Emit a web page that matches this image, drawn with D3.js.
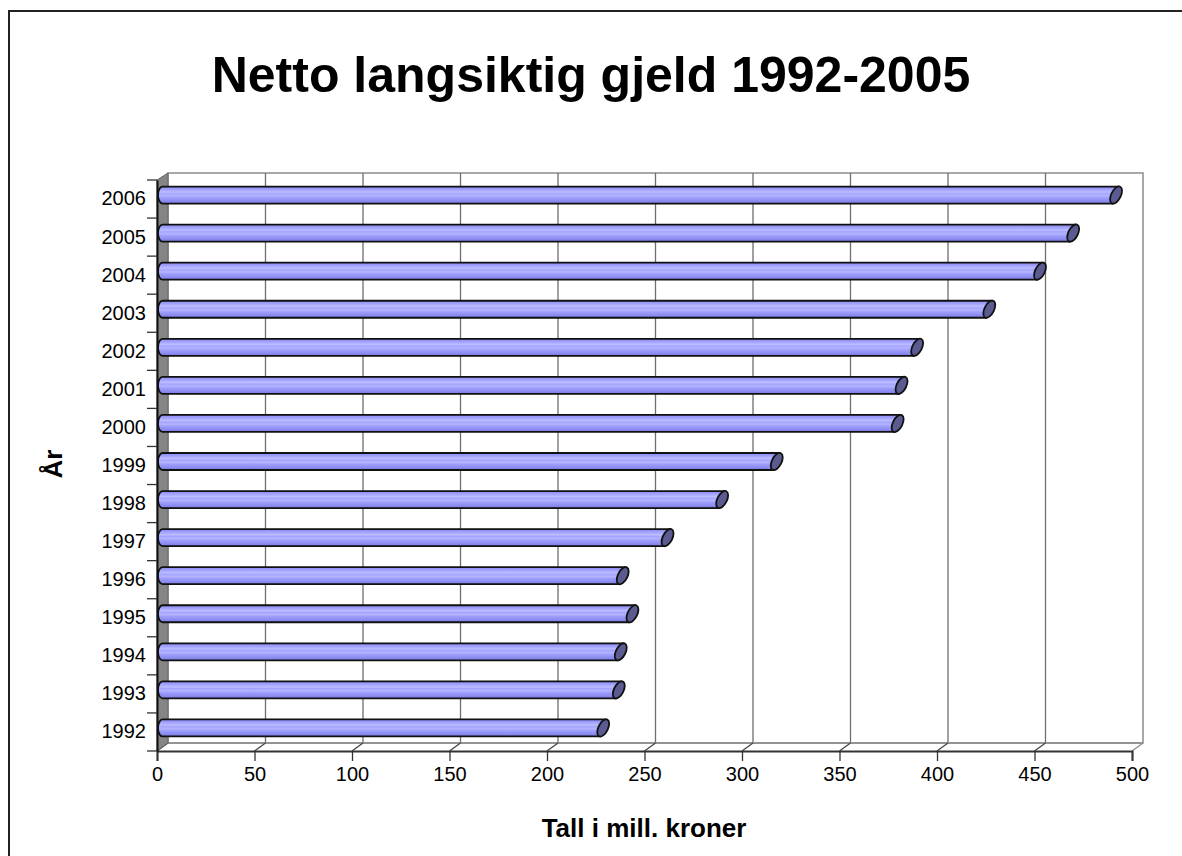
<!DOCTYPE html>
<html>
<head>
<meta charset="utf-8">
<script src="https://cdn.jsdelivr.net/npm/d3@7"></script>
<style>
  html, body { margin: 0; padding: 0; background: #fff; }
  svg { display: block; }
  text { font-family: "Liberation Sans", Arial, sans-serif; }
</style>
</head>
<body>
<svg id="chart" width="1182" height="856"></svg>
<script>
// ---- data ----
const years = ["1992","1993","1994","1995","1996","1997","1998","1999","2000","2001","2002","2003","2004","2005","2006"];
const values = [226, 234, 235, 241, 236, 259, 287, 315, 377, 379, 387, 424, 450, 467, 489];
const xTicks = [0, 50, 100, 150, 200, 250, 300, 350, 400, 450, 500];
const titleText = "Netto langsiktig gjeld 1992-2005";
const xTitle = "Tall i mill. kroner";
const yTitle = "År";

// ---- layout ----
const svg = d3.select("#chart");
const W = 1182, H = 856;
const frontLeft = 157, frontRight = 1132, frontTop = 180, frontBottom = 751;
const depthX = 11, depthY = -8;

const x = d3.scaleLinear().domain([0, 500]).range([frontLeft, frontRight]);
const y = d3.scaleBand().domain(years.slice().reverse()).range([frontTop, frontBottom]).paddingInner(0).paddingOuter(0);

// outer border
svg.append("rect").attr("x", 9).attr("y", 11).attr("width", W + 20).attr("height", H + 20)
  .attr("fill", "none").attr("stroke", "#222").attr("stroke-width", 2);

// title
svg.append("text").attr("x", 591).attr("y", 92).attr("text-anchor", "middle")
  .attr("font-size", 50).attr("font-weight", "bold").attr("fill", "#000").text(titleText);

// gradient defs
const defs = svg.append("defs");
const grad = defs.append("linearGradient").attr("id", "barGrad").attr("x1", 0).attr("y1", 0).attr("x2", 0).attr("y2", 1);
[[0, "#8888ee"], [0.18, "#a2a2ff"], [0.33, "#bdbdff"], [0.42, "#a4a4ff"], [0.55, "#b4b4ff"], [0.66, "#9e9efc"], [0.85, "#8c8cf0"], [1, "#7878dc"]]
  .forEach(([o, c]) => grad.append("stop").attr("offset", o).attr("stop-color", c));

// back wall
const bx0 = x(0) + depthX, bx1 = x(500) + depthX, by1 = frontBottom + depthY;
const backTop = 173;
svg.append("rect").attr("x", bx0).attr("y", backTop).attr("width", bx1 - bx0).attr("height", by1 - backTop)
  .attr("fill", "#fff").attr("stroke", "#8c8c8c").attr("stroke-width", 1.5);

// gridlines on back wall
svg.append("g").selectAll("line").data(xTicks.slice(1, -1)).join("line")
  .attr("x1", d => x(d) + depthX).attr("x2", d => x(d) + depthX)
  .attr("y1", backTop).attr("y2", by1)
  .attr("stroke", "#6e6e6e").attr("stroke-width", 1.3);

// floor
svg.append("line").attr("x1", x(0) + depthX).attr("x2", x(500) + depthX)
  .attr("y1", frontBottom + depthY).attr("y2", frontBottom + depthY)
  .attr("stroke", "#8c8c8c").attr("stroke-width", 1.5);
svg.append("g").selectAll("line").data(xTicks).join("line")
  .attr("x1", d => x(d)).attr("y1", frontBottom)
  .attr("x2", d => x(d) + depthX).attr("y2", frontBottom + depthY)
  .attr("stroke", d => d === 500 ? "#8c8c8c" : "#444").attr("stroke-width", 1.3);

// left wall
svg.append("path")
  .attr("d", `M${x(0)},${frontTop} L${x(0) + depthX},${backTop} L${x(0) + depthX},${frontBottom + depthY} L${x(0)},${frontBottom} Z`)
  .attr("fill", "#858585").attr("stroke", "#666").attr("stroke-width", 1);

// bars (mid-depth)
const midX = v => x(v) + depthX / 2;
const r = 8.5;
const bars = svg.append("g");
years.forEach((yr, i) => {
  const yc = y(yr) + y.bandwidth() / 2 + depthY / 2;
  const xs = midX(0);
  const xc = midX(values[i]);
  const g = bars.append("g");
  g.append("path")
    .attr("d", `M${xs},${yc - r} L${xc + 3},${yc - r} L${xc - 3},${yc + r} L${xs},${yc + r} A4.5 ${r} 0 0 1 ${xs},${yc - r} Z`)
    .attr("fill", "url(#barGrad)").attr("stroke", "#111").attr("stroke-width", 1.8).attr("stroke-linejoin", "round");
  g.append("ellipse")
    .attr("cx", 0).attr("cy", 0).attr("rx", 9.3).attr("ry", 4.8)
    .attr("transform", `translate(${xc},${yc}) rotate(-63.4)`)
    .attr("fill", "#5b5b92").attr("stroke", "#111").attr("stroke-width", 1.8);
});

// x axis (front edge)
const xAxis = d3.axisBottom(x).tickValues(xTicks).tickSize(10).tickPadding(6);
const xg = svg.append("g").attr("transform", `translate(0,${frontBottom})`).call(xAxis);
xg.select(".domain").attr("stroke", "#333").attr("stroke-width", 2);
xg.selectAll(".tick line").attr("stroke", "#333").attr("stroke-width", 1.3);
xg.selectAll(".tick text").attr("font-size", 20).attr("fill", "#000")
  .attr("font-family", "'Liberation Sans', Arial, sans-serif");

// y axis
const yAxis = d3.axisLeft(y).tickSize(0).tickPadding(11);
const yg = svg.append("g").attr("transform", `translate(${frontLeft},0)`).call(yAxis);
yg.select(".domain").attr("stroke", "#111").attr("stroke-width", 2);
yg.selectAll(".tick text").attr("font-size", 20).attr("fill", "#000")
  .attr("font-family", "'Liberation Sans', Arial, sans-serif");
// y tick marks at band boundaries
const bounds = years.map(yr => y(yr)).concat([frontBottom]);
svg.append("g").selectAll("line").data(bounds).join("line")
  .attr("x1", frontLeft - 10).attr("x2", frontLeft)
  .attr("y1", d => d).attr("y2", d => d)
  .attr("stroke", "#333").attr("stroke-width", 1.3);

// axis titles
svg.append("text").attr("x", 644).attr("y", 837).attr("text-anchor", "middle")
  .attr("font-size", 26).attr("font-weight", "bold").text(xTitle);
svg.append("text").attr("transform", "translate(62,464) rotate(-90)").attr("text-anchor", "middle")
  .attr("font-size", 26).attr("font-weight", "bold").text(yTitle);
</script>
</body>
</html>
